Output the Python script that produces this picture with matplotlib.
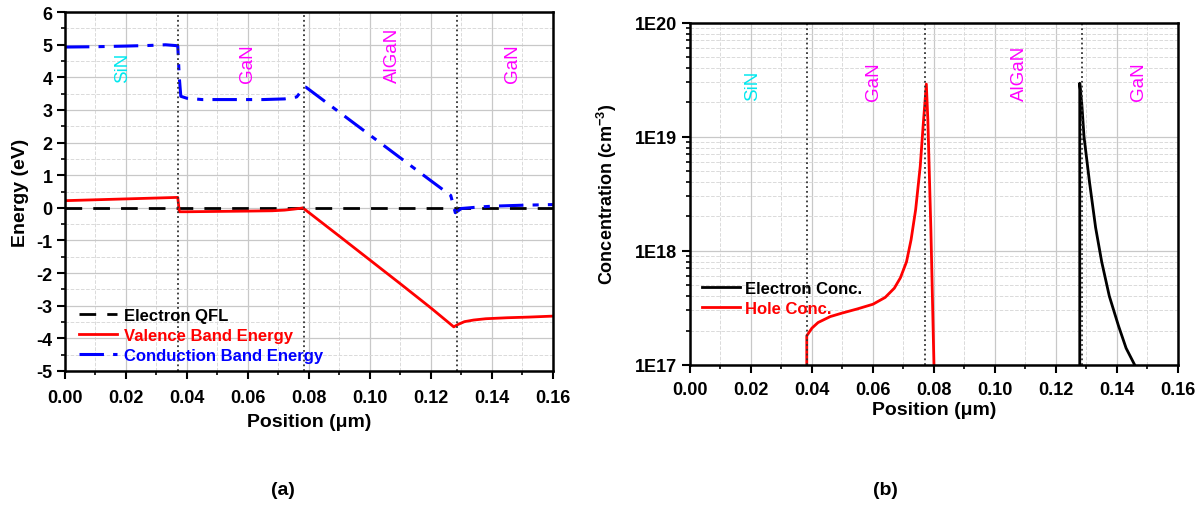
import matplotlib
matplotlib.use("Agg")
import matplotlib.pyplot as plt
from matplotlib.ticker import MultipleLocator, LogLocator, NullFormatter, FixedLocator, FixedFormatter

plt.rcParams['font.family'] = ['Liberation Sans', 'DejaVu Sans']
plt.rcParams['axes.unicode_minus'] = False
plt.rcParams['mathtext.fontset'] = 'custom'
plt.rcParams['mathtext.rm'] = 'Liberation Sans:bold'
plt.rcParams['mathtext.it'] = 'Liberation Sans:bold'

# ---- (a) band diagram ----
qfl_x = [0.0, 0.16]
qfl_y = [0.0, 0.0]

vb_x = [0.0, 0.037, 0.0375, 0.040, 0.050, 0.060, 0.068, 0.072, 0.075, 0.0775, 0.078,
        0.090, 0.100, 0.110, 0.120, 0.1275, 0.129, 0.131, 0.134, 0.138, 0.145, 0.152, 0.16]
vb_y = [0.22, 0.32, -0.12, -0.12, -0.11, -0.10, -0.09, -0.07, -0.04, -0.01, 0.0,
        -0.87, -1.60, -2.33, -3.07, -3.65, -3.57, -3.49, -3.44, -3.40, -3.37, -3.35, -3.32]

cb_x = [0.0, 0.010, 0.020, 0.028, 0.033, 0.037, 0.0375, 0.038, 0.040, 0.045, 0.055, 0.065,
        0.072, 0.076, 0.0785, 0.079, 0.090, 0.100, 0.110, 0.120, 0.1265, 0.128, 0.130,
        0.135, 0.140, 0.150, 0.16]
cb_y = [4.93, 4.94, 4.96, 4.98, 5.0, 4.97, 4.0, 3.42, 3.36, 3.32, 3.32, 3.32,
        3.34, 3.40, 3.70, 3.70, 2.93, 2.23, 1.53, 0.83, 0.38, -0.15, -0.02,
        0.02, 0.05, 0.08, 0.10]

bounds_a = [0.037, 0.0785, 0.1285]

# ---- (b) carrier concentration ----
hole_x = [0.0383, 0.0383, 0.040, 0.042, 0.046, 0.050, 0.055, 0.060, 0.064, 0.067,
          0.069, 0.071, 0.0725, 0.074, 0.0755, 0.0765, 0.0775, 0.0780, 0.0790, 0.0800]
hole_y = [1e17, 1.8e17, 2.1e17, 2.35e17, 2.65e17, 2.85e17, 3.1e17, 3.4e17, 3.9e17, 4.7e17,
          5.8e17, 8e17, 1.25e18, 2.3e18, 5.5e18, 1.3e19, 2.9e19, 1.4e19, 1.5e18, 1e17]

elec_x = [0.1278, 0.1278, 0.1285, 0.1292, 0.131, 0.133, 0.135, 0.1375, 0.1405, 0.143, 0.1458]
elec_y = [1e17, 2.95e19, 1.9e19, 1.0e19, 4.0e18, 1.6e18, 8.0e17, 4.0e17, 2.2e17, 1.4e17, 1e17]

bounds_b = [0.0383, 0.0772, 0.1285]

materials = ['SiN', 'GaN', 'AlGaN', 'GaN']
mat_colors = ['#00e8ee', '#ff00ff', '#ff00ff', '#ff00ff']
mat_x_a = [0.0190, 0.0600, 0.1075, 0.1466]
mat_x_b = [0.0207, 0.0603, 0.1080, 0.1470]

fig = plt.figure(figsize=(12.02, 5.06), dpi=100)
ax1 = fig.add_axes([0.054, 0.265, 0.406, 0.709])
ax2 = fig.add_axes([0.574, 0.277, 0.406, 0.676])


def style_axes(ax, xpad):
    for s in ax.spines.values():
        s.set_linewidth(1.8)
    ax.tick_params(which='major', direction='out', length=5.5, width=1.5,
                   labelsize=13, top=False, right=False)
    ax.tick_params(which='minor', direction='out', length=3, width=1.2,
                   top=False, right=False)
    ax.tick_params(axis='x', which='major', pad=xpad)
    for lab in ax.get_xticklabels() + ax.get_yticklabels():
        lab.set_fontweight('bold')
    ax.grid(which='major', color='#c8c8c8', linestyle='-', linewidth=0.9)
    ax.grid(which='minor', color='#dadada', linestyle='--', linewidth=0.7)
    ax.set_axisbelow(True)


# panel (a)
ax1.plot(qfl_x, qfl_y, color='black', linestyle=(0, (6, 4)), linewidth=2, label='Electron QFL')
ax1.plot(vb_x, vb_y, color='red', linewidth=2, label='Valence Band Energy')
ax1.plot(cb_x, cb_y, color='blue', linestyle=(0, (8, 3, 2, 3)), linewidth=2.2,
         label='Conduction Band Energy')
for b in bounds_a:
    ax1.axvline(b, color='#333333', linestyle=':', linewidth=1.3)
for name, c, x in zip(materials, mat_colors, mat_x_a):
    ax1.text(x, 3.86, name, color=c, rotation=90, ha='center', va='bottom', fontsize=13.5)
ax1.set_xlim(0, 0.16)
ax1.set_ylim(-5, 6)
ax1.xaxis.set_major_locator(MultipleLocator(0.02))
ax1.xaxis.set_minor_locator(MultipleLocator(0.01))
ax1.yaxis.set_major_locator(MultipleLocator(1))
ax1.yaxis.set_minor_locator(MultipleLocator(0.5))
ax1.xaxis.set_major_formatter(matplotlib.ticker.FormatStrFormatter('%.2f'))
style_axes(ax1, xpad=7.5)
ax1.set_xlabel('Position (\u03bcm)', fontsize=14, fontweight='bold', labelpad=5)
ax1.set_ylabel('Energy (eV)', fontsize=14, fontweight='bold', labelpad=5)
leg1 = ax1.legend(loc='lower left', bbox_to_anchor=(0.012, 0.0), frameon=False,
                  labelcolor='linecolor', handlelength=2.3, handletextpad=0.4,
                  labelspacing=0.3, borderaxespad=0.1,
                  prop={'weight': 'bold', 'size': 12})

# panel (b)
ax2.plot(elec_x, elec_y, color='black', linewidth=2, label='Electron Conc.')
ax2.plot(hole_x, hole_y, color='red', linewidth=2, label='Hole Conc.')
for b in bounds_b:
    ax2.axvline(b, color='#333333', linestyle=':', linewidth=1.3)
for name, c, x in zip(materials, mat_colors, mat_x_b):
    ax2.text(x, 2.1e19, name, color=c, rotation=90, ha='center', va='bottom', fontsize=13.5)
ax2.set_yscale('log')
ax2.set_xlim(0, 0.16)
ax2.set_ylim(1e17, 1e20)
ax2.xaxis.set_major_locator(MultipleLocator(0.02))
ax2.xaxis.set_minor_locator(MultipleLocator(0.01))
ax2.xaxis.set_major_formatter(matplotlib.ticker.FormatStrFormatter('%.2f'))
ax2.yaxis.set_major_locator(FixedLocator([1e17, 1e18, 1e19, 1e20]))
ax2.yaxis.set_major_formatter(FixedFormatter(['1E17', '1E18', '1E19', '1E20']))
ax2.yaxis.set_minor_locator(LogLocator(base=10, subs=range(2, 10)))
ax2.yaxis.set_minor_formatter(NullFormatter())
style_axes(ax2, xpad=6)
ax2.set_xlabel('Position (\u03bcm)', fontsize=14, fontweight='bold', labelpad=2)
ax2.set_ylabel('Concentration (cm$^{-3}$)', fontsize=13, fontweight='bold', labelpad=12)
leg2 = ax2.legend(loc='lower left', bbox_to_anchor=(0.0, 0.11), frameon=False,
                  labelcolor='linecolor', handlelength=2.3, handletextpad=0.3,
                  labelspacing=0.3, borderaxespad=0.3,
                  prop={'weight': 'bold', 'size': 12})

fig.text(283 / 1202, 1 - 491 / 506, '(a)', ha='center', va='center', fontsize=14, fontweight='bold')
fig.text(885 / 1202, 1 - 491 / 506, '(b)', ha='center', va='center', fontsize=14, fontweight='bold')

fig.savefig('out.png', dpi=100)
